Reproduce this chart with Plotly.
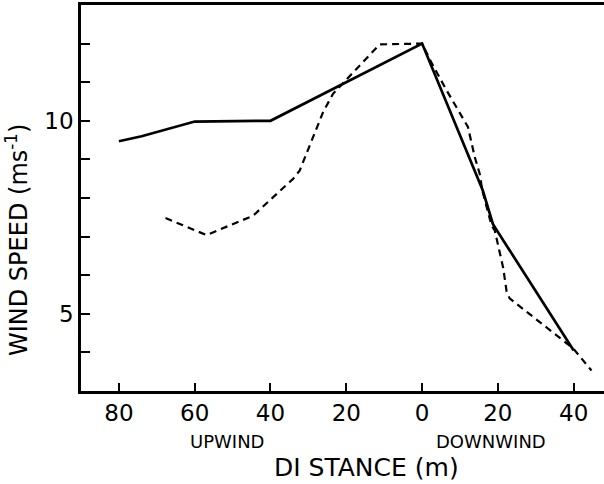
import plotly.graph_objects as go

# signed distance: upwind negative, downwind positive (m)
solid_x = [-80, -74, -60, -40, 0, 16, 18.7, 40]
solid_y = [9.47, 9.6, 9.98, 10.0, 12.0, 8.2, 7.32, 4.05]

dash_x = [-67.7, -56.9, -44.6, -34.0, -32.3, -26.1, -23.5, -20.0, -11.2, 0, 2.5, 6.4, 10.4, 12.1, 13.9, 15.2, 15.9, 18.3, 19.2, 21.4, 22.3, 23.1, 39.9, 44.7]
dash_y = [7.48, 7.04, 7.54, 8.5, 8.71, 10.23, 10.7, 11.06, 11.98, 12.0, 11.5, 10.8, 10.15, 9.84, 9.06, 8.63, 8.19, 7.3, 7.15, 6.19, 5.58, 5.4, 4.1, 3.53]

x_tickvals = [-80, -60, -40, -20, 0, 20, 40]
x_ticktext = ["80", "60", "40", "20", "0", "20", "40"]
y_tickvals = [5, 10]
y_ticktext = ["5", "10"]
y_minorvals = [4, 6, 7, 8, 9, 11, 12]

FONT = "DejaVu Sans, sans-serif"

fig = go.Figure()
fig.add_trace(go.Scatter(x=solid_x, y=solid_y, mode="lines",
                         line=dict(color="black", width=2.7), showlegend=False))
fig.add_trace(go.Scatter(x=dash_x, y=dash_y, mode="lines",
                         line=dict(color="black", width=2.2, dash="7px,5px"), showlegend=False))

fig.update_layout(
    width=604, height=484,
    margin=dict(l=81, r=0, t=5, b=93),
    paper_bgcolor="white", plot_bgcolor="white",
    font=dict(family=FONT, color="black"),
    xaxis=dict(range=[-90, 48], tickvals=x_tickvals, ticktext=x_ticktext,
               ticks="inside", ticklen=8, tickwidth=2, tickcolor="black",
               showline=True, linecolor="black", linewidth=2.5, mirror=True,
               showgrid=False, zeroline=False,
               tickfont=dict(size=23, family=FONT, color="black")),
    yaxis=dict(range=[3, 13], tickvals=y_tickvals, ticktext=y_ticktext,
               ticks="inside", ticklen=9, tickwidth=2, tickcolor="black",
               minor=dict(tickvals=y_minorvals, ticks="inside", ticklen=9,
                          tickwidth=2, tickcolor="black", showgrid=False),
               showline=True, linecolor="black", linewidth=2.5, mirror=False,
               showgrid=False, zeroline=False,
               tickfont=dict(size=23, family=FONT, color="black")),
    annotations=[
        dict(text="UPWIND", x=(227 - 81) / 523, y=(391 - 441) / 386, xref="paper", yref="paper",
             showarrow=False, font=dict(size=18, family=FONT, color="black"),
             xanchor="center", yanchor="middle"),
        dict(text="DOWNWIND", x=(491 - 81) / 523, y=(391 - 441) / 386, xref="paper", yref="paper",
             showarrow=False, font=dict(size=18, family=FONT, color="black"),
             xanchor="center", yanchor="middle"),
        dict(text="DI STANCE (m)", x=(366 - 81) / 523, y=(391 - 467) / 386,
             xref="paper", yref="paper", showarrow=False,
             font=dict(size=25, family=FONT, color="black"),
             xanchor="center", yanchor="middle"),
        dict(text="WIND SPEED (ms<sup>-1</sup>)", x=(17 - 81) / 523, y=(391 - 240) / 386,
             xref="paper", yref="paper", showarrow=False, textangle=-90,
             font=dict(size=24, family=FONT, color="black"),
             xanchor="center", yanchor="middle"),
    ],
)

fig.write_html("out.html")
